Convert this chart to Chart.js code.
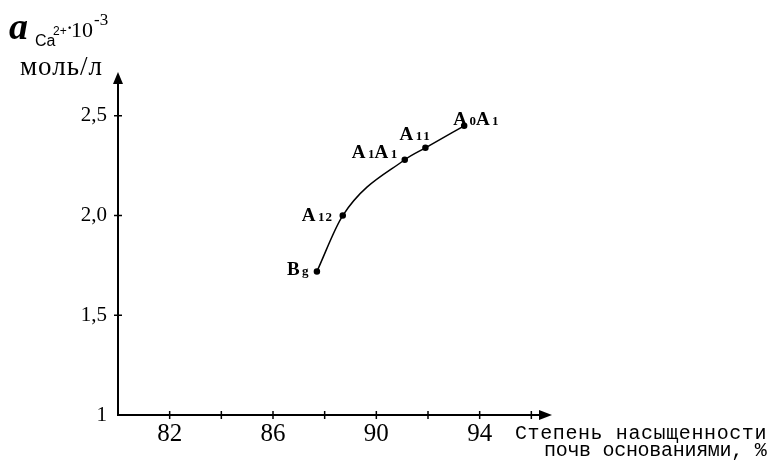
<!DOCTYPE html>
<html>
<head>
<meta charset="utf-8">
<script src="https://cdn.jsdelivr.net/npm/chart.js@4.4.1/dist/chart.umd.min.js"></script>
<style>
    html, body { margin: 0; padding: 0; background: #fff; }
    #wrap { width: 774px; height: 467px; }
</style>
</head>
<body>
<div id="wrap"><canvas id="chart" width="774" height="467"></canvas></div>
<script>
// Значения
const saturation = [87.7, 88.7, 91.1, 91.9, 93.4];
const activity = [1.72, 2.0, 2.28, 2.34, 2.45];
const pointNames = ['B_g', 'A_1_2', 'A_1A_1', 'A_1_1', 'A_0A_1'];
const xTicks = [82, 84, 86, 88, 90, 92, 94, 96];
const xTickLabels = ['82', '', '86', '', '90', '', '94', ''];
const yTicks = [1, 1.5, 2, 2.5];
const yTickLabels = ['1', '1,5', '2,0', '2,5'];

// сдвиги подписей точек (левый край, базовая линия) относительно точки
const labelOffsets = [[-30, 4], [-41, 5], [-53, -2], [-26, -8], [-11, -1]];

const SERIF = '"Liberation Serif", "DejaVu Serif", serif';
const MONO = '"Liberation Mono", "DejaVu Sans Mono", monospace';

function drawSubLabel(ctx, text, x, y) {
    // '_' делает следующий символ подстрочным
    let cx = x;
    for (let i = 0; i < text.length; i++) {
        let sub = false;
        if (text[i] === '_') { sub = true; i++; }
        ctx.font = sub ? 'bold 13px ' + SERIF : 'bold 19px ' + SERIF;
        ctx.fillText(text[i], cx + (sub ? 1 : 0), y);
        cx += ctx.measureText(text[i]).width + (sub ? 1 : 1.5);
    }
}

const axesPlugin = {
    id: 'axesPlugin',
    afterDraw(chart) {
        const ctx = chart.ctx;
        const xs = chart.scales.x, ys = chart.scales.y;
        const x0 = xs.left, y0 = ys.bottom;
        const xEnd = xs.right, yEnd = ys.top;
        ctx.save();
        ctx.strokeStyle = '#000';
        ctx.fillStyle = '#000';
        ctx.lineWidth = 2;

        // оси
        ctx.beginPath();
        ctx.moveTo(x0, y0 + 1);
        ctx.lineTo(x0, yEnd + 8);
        ctx.moveTo(x0 - 1, y0);
        ctx.lineTo(xEnd - 8, y0);
        ctx.stroke();

        // стрелки
        ctx.beginPath();
        ctx.moveTo(x0, yEnd);
        ctx.lineTo(x0 - 5, yEnd + 12);
        ctx.lineTo(x0 + 5, yEnd + 12);
        ctx.closePath();
        ctx.fill();
        ctx.beginPath();
        ctx.moveTo(xEnd, y0);
        ctx.lineTo(xEnd - 13, y0 - 5);
        ctx.lineTo(xEnd - 13, y0 + 5);
        ctx.closePath();
        ctx.fill();

        // засечки
        ctx.lineWidth = 1.5;
        ctx.beginPath();
        xTicks.forEach(v => {
            const px = xs.getPixelForValue(v);
            ctx.moveTo(px, y0 - 4);
            ctx.lineTo(px, y0 + 4);
        });
        yTicks.slice(1).forEach(v => {
            const py = ys.getPixelForValue(v);
            ctx.moveTo(x0 - 4, py);
            ctx.lineTo(x0 + 4, py);
        });
        ctx.stroke();

        // подписи точек
        ctx.textAlign = 'left';
        ctx.textBaseline = 'alphabetic';
        const pts = chart.getDatasetMeta(0).data;
        pts.forEach((p, i) => {
            const [dx, dy] = labelOffsets[i];
            drawSubLabel(ctx, pointNames[i], p.x + dx, p.y + dy);
        });

        // заголовок оси Y
        ctx.font = 'bold italic 38px ' + SERIF;
        ctx.fillText('a', 9, 39);
        ctx.font = '16px "Liberation Sans", sans-serif';
        ctx.fillText('Ca', 35, 46);
        ctx.font = '12px "Liberation Sans", sans-serif';
        ctx.fillText('2+', 53, 35);
        ctx.font = 'bold 16px ' + SERIF;
        ctx.fillText('·', 67, 33);
        ctx.font = '22px ' + SERIF;
        ctx.fillText('10', 71, 37);
        ctx.font = '17px ' + SERIF;
        ctx.fillText('-3', 94, 25);
        ctx.font = '27px ' + SERIF;
        ctx.letterSpacing = '1px';
        ctx.fillText('моль/л', 20, 75);

        // заголовок оси X
        ctx.font = '20px ' + MONO;
        ctx.letterSpacing = '0.6px';
        ctx.fillText('Степень насыщенности', 515, 439);
        ctx.letterSpacing = '-0.3px';
        ctx.fillText('почв основаниями, %', 544, 456);
        ctx.letterSpacing = '0px';
        ctx.restore();
    }
};

new Chart(document.getElementById('chart'), {
    type: 'scatter',
    data: {
        datasets: [{
            data: saturation.map((v, i) => ({ x: v, y: activity[i] })),
            showLine: true,
            cubicInterpolationMode: 'monotone',
            borderColor: '#000',
            borderWidth: 1.5,
            pointRadius: 2.5,
            pointBackgroundColor: '#000',
            pointBorderColor: '#000',
            clip: false
        }]
    },
    options: {
        responsive: false,
        animation: false,
        layout: { padding: { top: 72, right: 222, left: 0, bottom: 0 } },
        plugins: { legend: { display: false }, tooltip: { enabled: false } },
        scales: {
            x: {
                type: 'linear',
                min: 80,
                max: 96.8,
                afterFit: s => { s.height = 52; },
                afterBuildTicks: s => { s.ticks = xTicks.map(v => ({ value: v })); },
                grid: { display: false },
                border: { display: false },
                ticks: {
                    color: '#000',
                    padding: -4,
                    maxRotation: 0,
                    autoSkip: false,
                    font: { family: SERIF, size: 25 },
                    callback: (v, i) => xTickLabels[i]
                }
            },
            y: {
                type: 'linear',
                min: 1,
                max: 2.72,
                afterFit: s => { s.width = 118; },
                afterBuildTicks: s => { s.ticks = yTicks.map(v => ({ value: v })); },
                grid: { display: false },
                border: { display: false },
                ticks: {
                    color: '#000',
                    padding: 3,
                    autoSkip: false,
                    font: { family: SERIF, size: 21 },
                    callback: (v, i) => yTickLabels[i]
                }
            }
        }
    },
    plugins: [axesPlugin]
});
</script>
</body>
</html>
